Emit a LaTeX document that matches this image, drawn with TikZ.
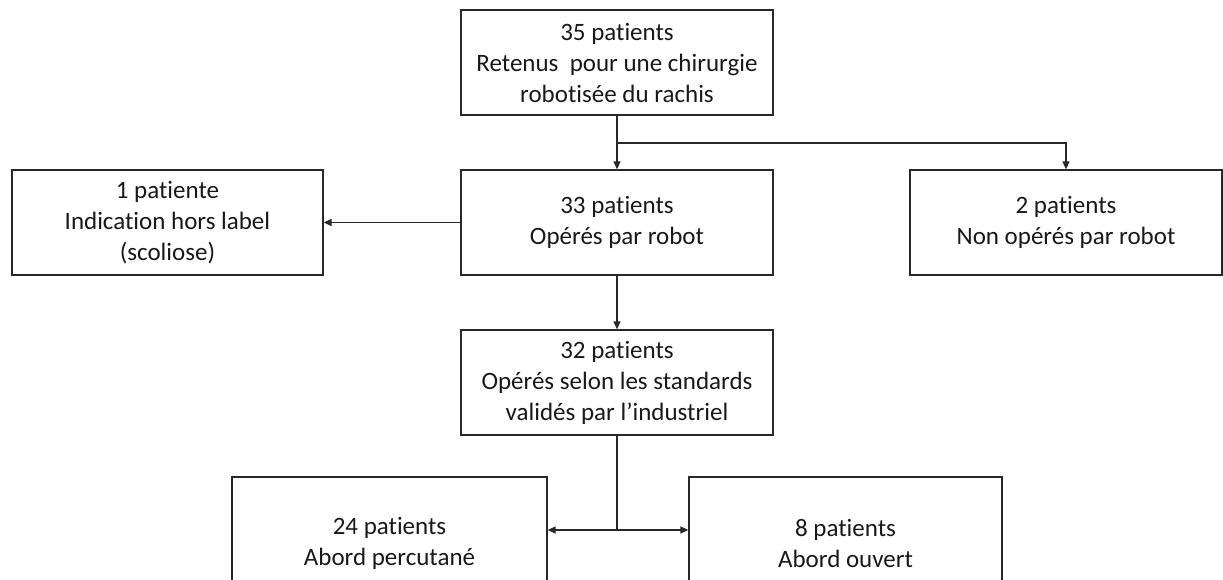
\documentclass[tikz,border=0pt]{standalone}
\usepackage{fontspec}
\setmainfont{Carlito}[Ligatures=NoCommon]
\usetikzlibrary{arrows.meta}
\definecolor{lc}{RGB}{40,40,40}
\definecolor{tc}{RGB}{25,25,25}
\begin{document}
\begin{tikzpicture}[x=1pt,y=-1pt,
  box/.style={draw=lc, line width=1.3pt, minimum width=312pt, minimum height=105pt, align=center, inner sep=0pt, font=\fontsize{25}{31}\selectfont, text=tc},
  arr/.style={draw=lc, line width=1.3pt, -{Triangle[length=8pt,width=7pt]}},
  ln/.style={draw=lc, line width=1.3pt}]
\useasboundingbox (0,0) rectangle (1223,580);
\fill[white] (0,0) rectangle (1223,580);
\clip (0,0) rectangle (1223,580);

\node[box] (top) at (617,62.5) {35 patients\\Retenus\ \ pour une chirurgie\\robotisée du rachis};
\node[box] (n33) at (617,222.5) {33 patients\\Opérés par robot};
\node[box, minimum width=311pt] (left) at (167.5,222.5) {1 patiente\\Indication hors label\\(scoliose)};
\node[box] (right) at (1066,222.5) {2 patients\\Non opérés par robot};
\node[box] (n32) at (617,382.5) {32 patients\\Opérés selon les standards\\validés par l’industriel};
\node[box, minimum width=315pt, minimum height=132pt] (n24) at (389.5,543) {24 patients\\Abord percutané};
\node[box, minimum width=313pt, minimum height=132pt] (n8) at (845.5,543) {8 patients\\Abord ouvert};

\coordinate (b) at (617,143);
\coordinate (j) at (617,530);

\draw[arr] (top.south) -- (n33.north);
\draw[arr] (b) -| (right.north);
\draw[arr] (n33.west) -- (left.east);
\draw[arr] (n33.south) -- (n32.north);
\draw[ln] (n32.south) -- (j);
\draw[arr] (j) -- (j -| n24.east);
\draw[arr] (j) -- (j -| n8.west);
\end{tikzpicture}
\end{document}
